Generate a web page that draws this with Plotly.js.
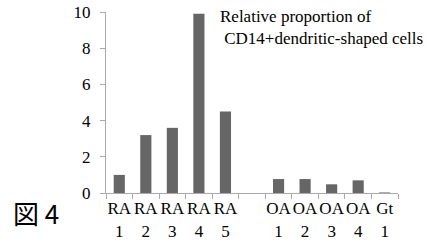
<!DOCTYPE html>
<html><head><meta charset="utf-8">
<script src="https://cdn.plot.ly/plotly-3.0.1.min.js"></script>
<style>html,body{margin:0;padding:0;background:#fff}#c{width:427px;height:243px}</style>
</head><body><div id="c"></div>
<script>
const categories = ["RA1","RA2","RA3","RA4","RA5","gap","OA1","OA2","OA3","OA4","Gt1"];
const tickLabels = ["RA<br>1","RA<br>2","RA<br>3","RA<br>4","RA<br>5","","OA<br>1","OA<br>2","OA<br>3","OA<br>4","Gt<br>1"];
const values = [1.0, 3.2, 3.6, 9.9, 4.5, null, 0.77, 0.77, 0.48, 0.7, 0.03];
const yTicks = [0, 2, 4, 6, 8, 10];
const chartTitle = "Relative proportion of<br> CD14+dendritic-shaped cells";
const figLabel = "図 4";

const serif = "'Liberation Serif', 'Times New Roman', serif";
Plotly.newPlot("c", [{
  type: "bar", x: categories, y: values,
  marker: {color: "#666666"}, width: 0.42, hoverinfo: "none"
}], {
  width: 427, height: 243,
  margin: {l: 106, r: 29, t: 12, b: 50},
  paper_bgcolor: "#fff", plot_bgcolor: "#fff",
  showlegend: false,
  xaxis: {
    type: "category", categoryorder: "array", categoryarray: categories,
    tickvals: categories, ticktext: tickLabels, tickangle: 0,
    tickson: "boundaries", ticks: "outside", ticklen: 5, tickcolor: "#aaa",
    showline: true, linecolor: "#aaa", linewidth: 1,
    showgrid: false, zeroline: false,
    tickfont: {family: serif, size: 17, color: "#000"}
  },
  yaxis: {
    range: [0, 10], tickvals: yTicks, ticks: "outside", ticklen: 5, tickcolor: "#aaa",
    showline: true, linecolor: "#aaa", linewidth: 1,
    showgrid: false, zeroline: false, ticklabelstandoff: 6,
    tickfont: {family: serif, size: 17, color: "#000"}
  },
  annotations: [
    {text: chartTitle, xref: "paper", yref: "paper", x: 0.383, y: 1.04,
     xanchor: "left", yanchor: "top", align: "left", showarrow: false,
     font: {family: serif, size: 17, color: "#000"}},
    {text: figLabel, xref: "paper", yref: "paper", x: -0.325, y: 0.005,
     xanchor: "left", yanchor: "top", showarrow: false,
     font: {family: "Noto Sans CJK JP", size: 26, color: "#000"}}
  ]
}, {staticPlot: true});
</script></body></html>
